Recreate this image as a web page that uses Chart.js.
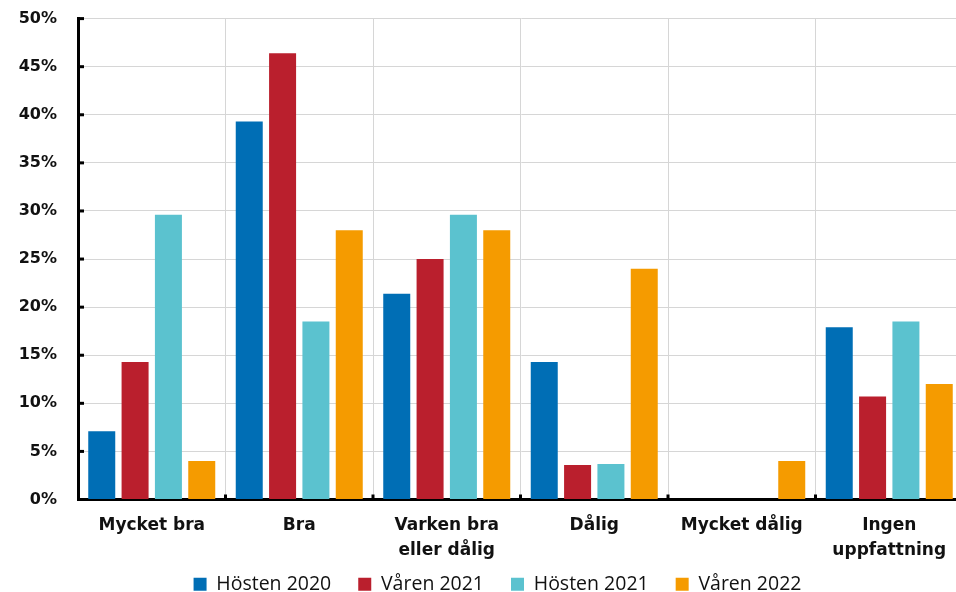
<!DOCTYPE html>
<html>
<head>
<meta charset="utf-8">
<script src="https://cdn.jsdelivr.net/npm/chart.js@4"></script>
<style>
  html, body { margin: 0; padding: 0; background: #fff; overflow: hidden; }
  #wrap { width: 996px; height: 616px; margin-top: -12px; }
</style>
</head>
<body>
<div id="wrap"><canvas id="chart" width="996" height="616"></canvas></div>
<script>
  const categories = [
    'Mycket bra',
    'Bra',
    ['Varken bra', 'eller dålig'],
    'Dålig',
    'Mycket dålig',
    ['Ingen', 'uppfattning']
  ]
  const seriesNames = ['Hösten 2020', 'Våren 2021', 'Hösten 2021', 'Våren 2022']
  const hosten2020 = [7.1, 39.3, 21.4, 14.3, 0, 17.9]
  const varen2021 = [14.3, 46.4, 25.0, 3.6, 0, 10.7]
  const hosten2021 = [29.6, 18.5, 29.6, 3.7, 0, 18.5]
  const varen2022 = [4.0, 28.0, 28.0, 24.0, 4.0, 12.0]
  const colors = ['#006EB5', '#BA1F2D', '#5BC2CF', '#F59B00']

  // small black tick marks pointing into the plot
  const innerTicks = {
    id: 'innerTicks',
    afterLayout(chart) {
      // let the two-line category labels run below the axis box,
      // and centre the legend on the page rather than the plot
      chart.scales.x.bottom += 30
      chart.legend.left += 16
      chart.legend.right += 16
    },
    afterDraw(chart) {
      const { ctx, scales: { x, y } } = chart
      ctx.save()
      ctx.fillStyle = '#000'
      y.ticks.forEach((t) => {
        const py = y.getPixelForValue(t.value)
        ctx.fillRect(x.left, py - 1.5, 6, 3)
      })
      const half = (x.getPixelForValue(1) - x.getPixelForValue(0)) / 2
      for (let i = 1; i < categories.length; i++) {
        const px = x.getPixelForValue(i) - half
        ctx.fillRect(px - 1.5, y.bottom - 5, 3, 5)
      }
      ctx.restore()
    }
  }

  new Chart(document.getElementById('chart'), {
    type: 'bar',
    data: {
      labels: categories,
      datasets: [hosten2020, varen2021, hosten2021, varen2022].map((d, i) => ({
        label: seriesNames[i],
        data: d,
        backgroundColor: colors[i],
        categoryPercentage: 0.904,
        barPercentage: 0.81
      }))
    },
    options: {
      responsive: false,
      animation: false,
      layout: { padding: { top: 0, right: 33, left: 0, bottom: 0 } },
      scales: {
        x: {
          grid: { offset: true, color: '#D6D6D6', lineWidth: 1, drawTicks: false },
          border: { color: '#000', width: 3 },
          ticks: {
            color: '#111',
            font: { family: 'DejaVu Sans', size: 17, weight: 'bold', lineHeight: 1.5 },
            padding: 13
          },
          afterFit(scale) { scale.height = 48 }
        },
        y: {
          min: 0,
          max: 50,
          grid: { color: '#D6D6D6', lineWidth: 1, drawTicks: false },
          border: { color: '#000', width: 3 },
          ticks: {
            stepSize: 5,
            color: '#111',
            font: { family: 'DejaVu Sans', size: 16, weight: 'bold' },
            padding: 21,
            callback: (v) => v + '%'
          },
          afterFit(scale) { scale.width = 78 }
        }
      },
      plugins: {
        legend: {
          position: 'bottom',
          labels: {
            boxWidth: 13,
            boxHeight: 13,
            color: '#111',
            padding: 27,
            font: { family: 'Open Sans', size: 19.5 }
          }
        },
        tooltip: { enabled: false }
      }
    },
    plugins: [innerTicks]
  })
</script>
</body>
</html>
